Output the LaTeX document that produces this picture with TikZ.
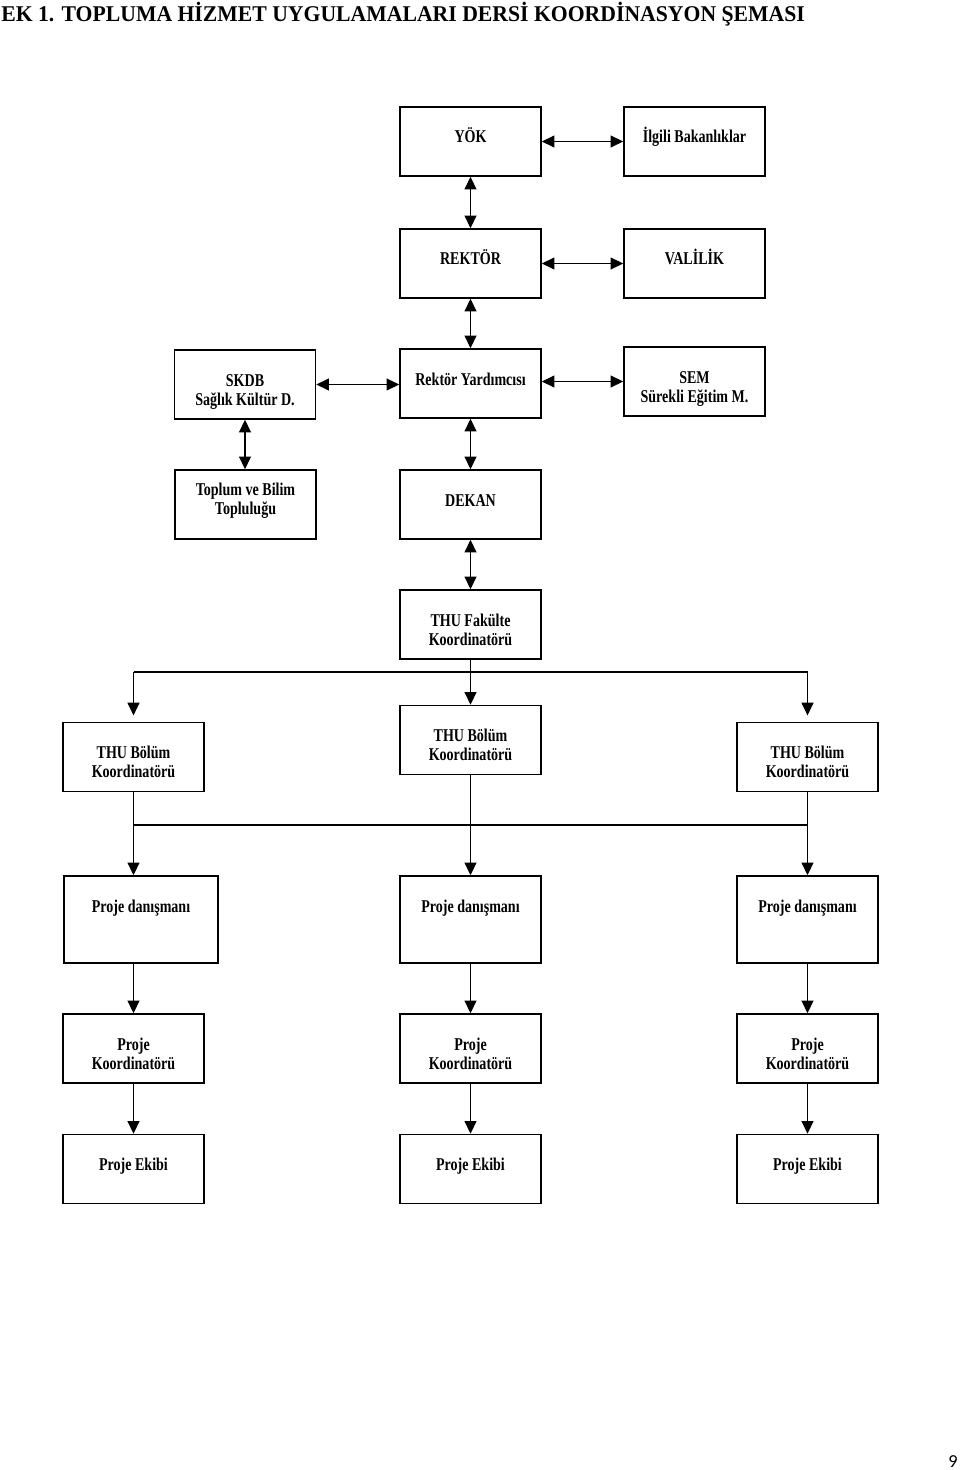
\documentclass[tikz,border=0pt]{standalone}
\usepackage{fontspec}
\setmainfont{Liberation Serif}
\newfontfamily\boxfont{Liberation Serif}[FakeStretch=0.78]
\newfontfamily\titlefont{Liberation Serif}[FakeStretch=0.965]
\newfontfamily\pagefont{Carlito}
\usetikzlibrary{arrows.meta,positioning,calc}

\begin{document}
\begin{tikzpicture}[x=0.025cm, y=-0.025cm,
    box/.style={draw, line width=1.1pt, fill=white, inner sep=0pt, align=center,
      minimum width=3.525cm, text height=0.9cm, text depth=0.825cm,
      font=\boxfont\bfseries\fontsize{12.8pt}{13.5pt}\selectfont},
    twoline/.style={text height=1.375cm, text depth=0.35cm},
    tallbox/.style={box, text depth=1.275cm},
    link/.style={line width=0.8pt},
    >={Triangle[length=9pt,width=8.5pt]}]
    \useasboundingbox (0,0) rectangle (960,1470);
    % title and page number
    \node[anchor=base west, inner sep=0pt, font=\titlefont\bfseries\fontsize{16pt}{19pt}\selectfont] (title) at (1,21.5) {EK 1. TOPLUMA HİZMET UYGULAMALARI DERSİ KOORDİNASYON ŞEMASI};
    \node[anchor=base east, inner sep=0pt, font=\pagefont\fontsize{13pt}{15pt}\selectfont] (page) at (958,1467) {9};
    % upper part
    \node[box] (yok) at (470.5,141.5) {YÖK};
    \node[box] (ilgili) at (694.5,141.5) {İlgili Bakanlıklar};
    \node[box] (rektor) at (470.5,263.5) {REKTÖR};
    \node[box] (valilik) at (694.5,263.5) {VALİLİK};
    \node[box, twoline] (skdb) at (245,384.5) {SKDB\\Sağlık Kültür D.};
    \node[box] (ryard) at (470.5,383.5) {Rektör Yardımcısı};
    \node[box, twoline] (sem) at (694.5,381.5) {SEM\\Sürekli Eğitim M.};
    \node[box, text height=1.1cm, text depth=0.625cm] (toplum) at (245.5,504.5) {Toplum ve Bilim\\Topluluğu};
    \node[box] (dekan) at (470.5,504.5) {DEKAN};
    \node[box, twoline] (fakulte) at (470.5,624.5) {THU Fakülte\\Koordinatörü};
    % department level
    \node[box, twoline] (bolumL) at (133.5,757) {THU Bölüm\\Koordinatörü};
    \node[box, twoline] (bolumM) at (470.5,740) {THU Bölüm\\Koordinatörü};
    \node[box, twoline] (bolumR) at (807.5,757) {THU Bölüm\\Koordinatörü};
    \node[tallbox, minimum width=3.85cm] (danL) at (141,919.5) {Proje danışmanı};
    \node[tallbox] (danM) at (470.5,919.5) {Proje danışmanı};
    \node[tallbox] (danR) at (807.5,919.5) {Proje danışmanı};
    \node[box, twoline] (koorL) at (133.5,1048.5) {Proje\\Koordinatörü};
    \node[box, twoline] (koorM) at (470.5,1048.5) {Proje\\Koordinatörü};
    \node[box, twoline] (koorR) at (807.5,1048.5) {Proje\\Koordinatörü};
    \node[box] (ekipL) at (133.5,1169) {Proje Ekibi};
    \node[box] (ekipM) at (470.5,1169) {Proje Ekibi};
    \node[box] (ekipR) at (807.5,1169) {Proje Ekibi};
    % two-way links
    \draw[link,<->] (yok.east) -- (ilgili.west);
    \draw[link,<->] (rektor.east) -- (valilik.west);
    \draw[link,<->] (ryard.east |- sem.west) -- (sem.west);
    \draw[link,<->] (skdb.east) -- (skdb.east -| ryard.west);
    \draw[link,<->] (yok.south) -- (rektor.north);
    \draw[link,<->] (rektor.south) -- (ryard.north);
    \draw[link,<->] (ryard.south) -- (dekan.north);
    \draw[link,<->] (dekan.south) -- (fakulte.north);
    \draw[link,<->] (skdb.south) -- (skdb.south |- toplum.north);
    % faculty to departments
    \coordinate (bus1) at (470.5,672);
    \coordinate (bus2) at (470.5,825);
    \draw[link] (fakulte.south) -- (bus1);
    \draw[link] (bolumL.north |- bus1) -- (bolumR.north |- bus1);
    \draw[link,->,shorten >=4.5pt] (bolumL.north |- bus1) -- (bolumL.north);
    \draw[link,->] (bus1) -- (bolumM.north);
    \draw[link,->,shorten >=4.5pt] (bolumR.north |- bus1) -- (bolumR.north);
    % departments to project advisors
    \draw[link] (bolumL.south) -- (bolumL.south |- bus2);
    \draw[link] (bolumR.south) -- (bolumR.south |- bus2);
    \draw[link] (bolumL.south |- bus2) -- (bolumR.south |- bus2);
    \draw[link,->] (bolumL.south |- bus2) -- (bolumL.south |- danL.north);
    \draw[link,->] (bolumM.south) -- (danM.north);
    \draw[link,->] (bolumR.south |- bus2) -- (danR.north);
    % project chains
    \draw[link,->] (koorL.north |- danL.south) -- (koorL.north);
    \draw[link,->] (danM.south) -- (koorM.north);
    \draw[link,->] (danR.south) -- (koorR.north);
    \draw[link,->] (koorL.south) -- (ekipL.north);
    \draw[link,->] (koorM.south) -- (ekipM.north);
    \draw[link,->] (koorR.south) -- (ekipR.north);
\end{tikzpicture}
\end{document}
